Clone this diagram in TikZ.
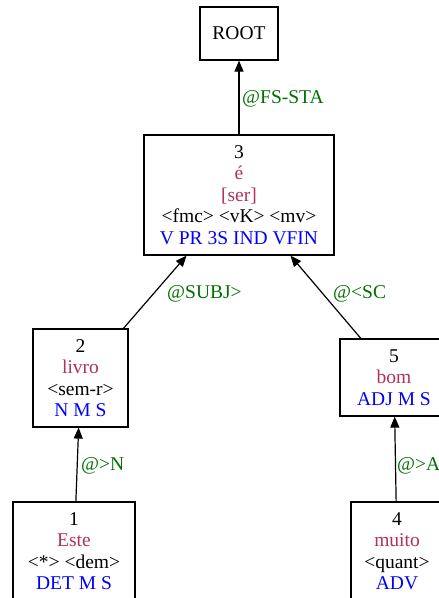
\documentclass[tikz,border=0pt]{standalone}
\usepackage{fontspec}
\setmainfont{Liberation Serif}
\usetikzlibrary{arrows.meta}
\definecolor{lemma}{HTML}{B03060}
\definecolor{posc}{HTML}{0000FF}
\definecolor{rel}{HTML}{007000}
\begin{document}
\begin{tikzpicture}[x=1pt,y=-1pt,
  box/.style={draw, line width=1.2pt, align=center, inner sep=0pt,
    font=\fontsize{19.5}{21.5}\selectfont},
  arr/.style={line width=1.2pt, -{Triangle[length=11pt,width=9pt]}},
  lab/.style={anchor=west, inner sep=0pt, text=rel,
    font=\fontsize{19.5}{21.5}\selectfont}]
\useasboundingbox (0,0) rectangle (439,598);
\clip (0,0) rectangle (439,598);
\node[box, minimum width=78pt, minimum height=53pt] (root) at (239,33.5) {ROOT};
\node[box, minimum width=190pt, minimum height=120pt] (n3) at (239,195)
  {3\\\textcolor{lemma}{é}\\\textcolor{lemma}{[ser]}\\<fmc> <vK> <mv>\\\textcolor{posc}{V PR 3S IND VFIN}};
\node[box, minimum width=95pt, minimum height=98pt] (n2) at (80.5,378)
  {2\\\textcolor{lemma}{livro}\\<sem-r>\\\textcolor{posc}{N M S}};
\node[box, minimum width=122pt, minimum height=98pt] (n1) at (74,551)
  {1\\\textcolor{lemma}{Este}\\<*> <dem>\\\textcolor{posc}{DET M S}};
\node[box, minimum width=108pt, minimum height=77pt] (n5) at (394,377.5)
  {5\\\textcolor{lemma}{bom}\\\textcolor{posc}{ADJ M S}};
\node[box, minimum width=92pt, minimum height=98pt] (n4) at (397,551)
  {4\\\textcolor{lemma}{muito}\\<quant>\\\textcolor{posc}{ADV}};
\draw[arr] (n3) -- (root);
\draw[arr] (n2) -- (n3);
\draw[arr] (n5) -- (n3);
\draw[arr] (n1) -- (n2);
\draw[arr] (n4) -- (n5);
\node[lab] (l3) at (242,98.5) {@FS-STA};
\node[lab] (l2) at (167,293.5) {@SUBJ>};
\node[lab] (l5) at (333,293.5) {@<SC};
\node[lab] (l1) at (81,465.5) {@>N};
\node[lab] (l4) at (397,466) {@>A};
\end{tikzpicture}
\end{document}
